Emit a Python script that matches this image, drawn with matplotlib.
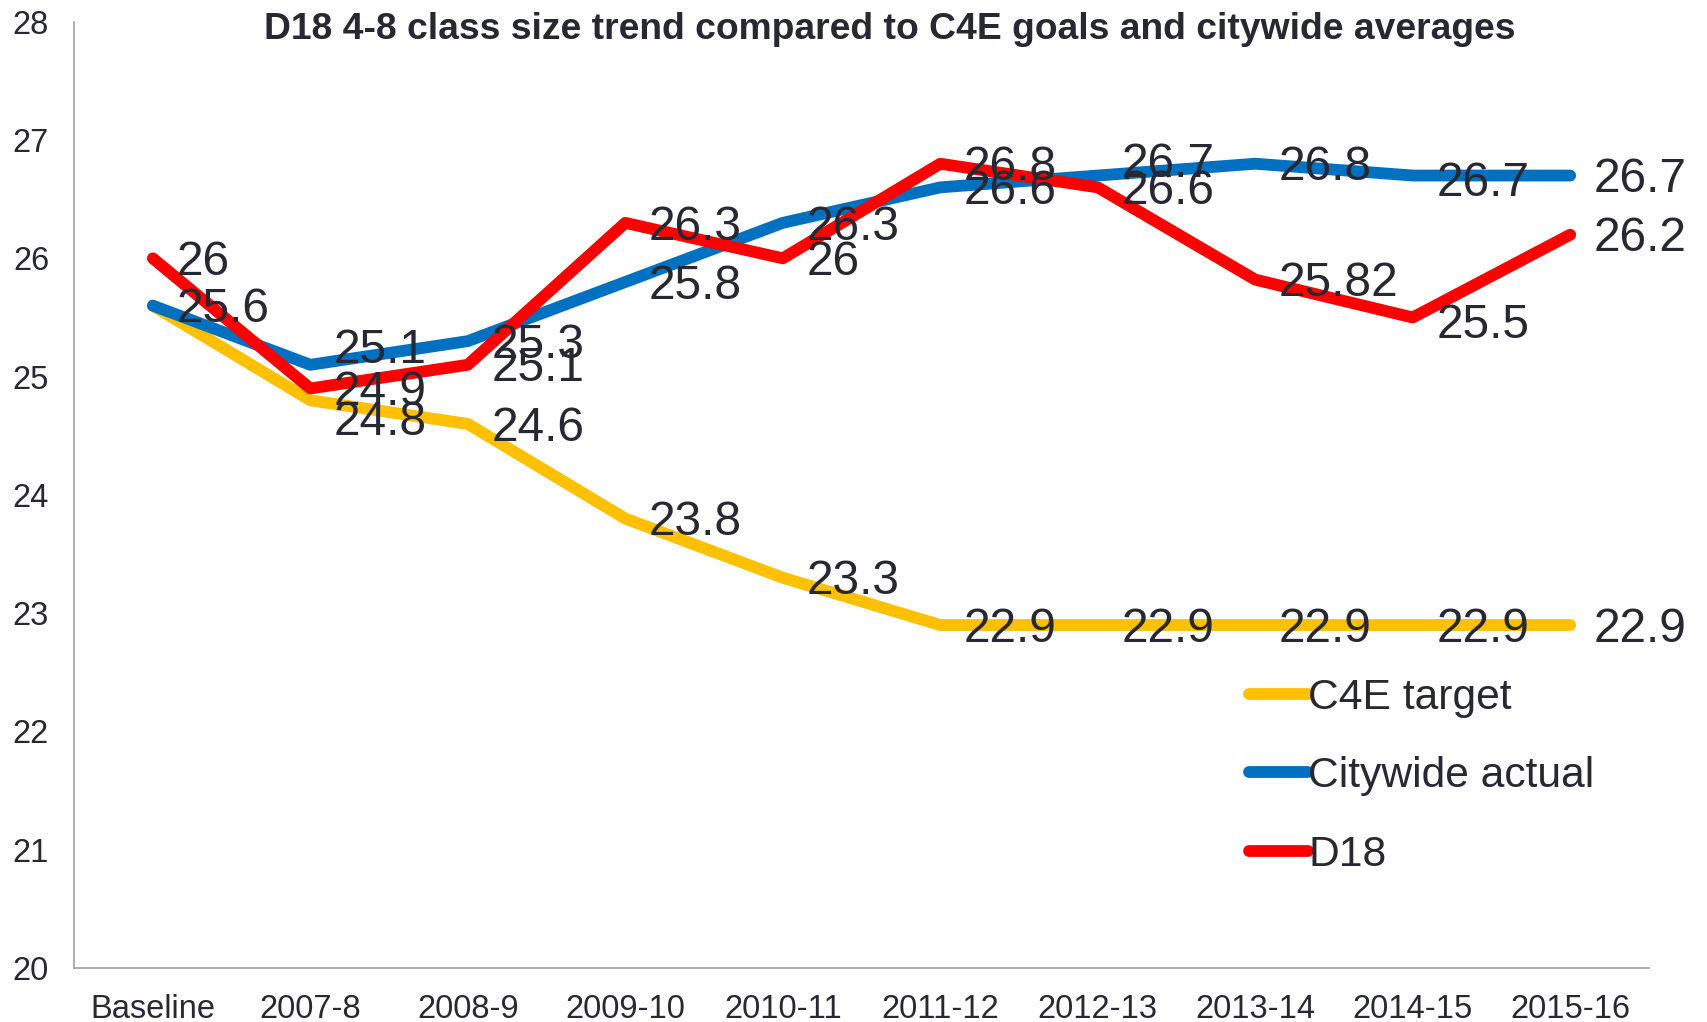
import matplotlib
matplotlib.use("Agg")
import matplotlib.pyplot as plt

# chart data
years = ["Baseline", "2007-8", "2008-9", "2009-10", "2010-11",
         "2011-12", "2012-13", "2013-14", "2014-15", "2015-16"]
c4e_target = [25.6, 24.8, 24.6, 23.8, 23.3, 22.9, 22.9, 22.9, 22.9, 22.9]
citywide_actual = [25.6, 25.1, 25.3, 25.8, 26.3, 26.6, 26.7, 26.8, 26.7, 26.7]
d18 = [26, 24.9, 25.1, 26.3, 26.0, 26.8, 26.6, 25.82, 25.5, 26.2]

TEXT_COLOR = "#282832"
SPINE_COLOR = "#a6a6a6"
LABEL_SIZE = 34.5

# small vertical nudges (points) where the original chart moved labels
# apart so they would not sit on top of each other
LABEL_NUDGES = {
    ("C4E target", 1): -13,
    ("Citywide actual", 1): 13,
    ("Citywide actual", 6): 11,
    ("Citywide actual", 8): -3,
    ("D18", 8): -2.5,
}

plt.rcParams["font.family"] = ["Liberation Sans", "DejaVu Sans"]

fig = plt.figure(figsize=(17.07, 10.22), dpi=100)
ax = fig.add_axes([0.0434, 0.0528, 0.9226, 0.9259])

series = [
    ("C4E target", c4e_target, "#ffc000"),
    ("Citywide actual", citywide_actual, "#0070c0"),
    ("D18", d18, "#ff0000"),
]
x = list(range(len(years)))

for name, values, color in series:
    ax.plot(x, values, color=color, linewidth=8.5, label=name,
            solid_capstyle="round", solid_joinstyle="round")

for name, values, color in series:
    for i, v in enumerate(values):
        # baseline target sits exactly under the citywide label, skip the duplicate
        if name == "C4E target" and i == 0:
            continue
        label = f"{v:g}"
        dy = LABEL_NUDGES.get((name, i), 0) - 3
        ax.annotate(label, (i, v), xytext=(17, dy), textcoords="offset points",
                    ha="left", va="center", fontsize=LABEL_SIZE, color=TEXT_COLOR,
                    annotation_clip=False)

ax.set_xlim(-0.5, len(years) - 0.5)
ax.set_ylim(20, 28)
ax.set_xticks(x)
ax.set_xticklabels(years)
ax.set_yticks(range(20, 29))
ax.tick_params(axis="both", length=0, labelsize=23.5, colors=TEXT_COLOR)
ax.tick_params(axis="x", pad=19)
ax.tick_params(axis="y", pad=18)

for side in ("top", "right"):
    ax.spines[side].set_visible(False)
for side in ("left", "bottom"):
    ax.spines[side].set_color(SPINE_COLOR)
    ax.spines[side].set_linewidth(1.3)

legend = ax.legend(loc="center left", bbox_to_anchor=(0.7315, 0.2404),
                   bbox_transform=fig.transFigure, frameon=False,
                   fontsize=30.7, handlelength=1.4, handletextpad=0.0,
                   labelspacing=0.9, borderpad=0, borderaxespad=0)
for text in legend.get_texts():
    text.set_color(TEXT_COLOR)

fig.text(0.521, 0.971, "D18 4-8 class size trend compared to C4E goals and citywide averages",
         ha="center", va="center", fontsize=26.8, fontweight="bold", color=TEXT_COLOR)

fig.savefig("out.png", dpi=100)
